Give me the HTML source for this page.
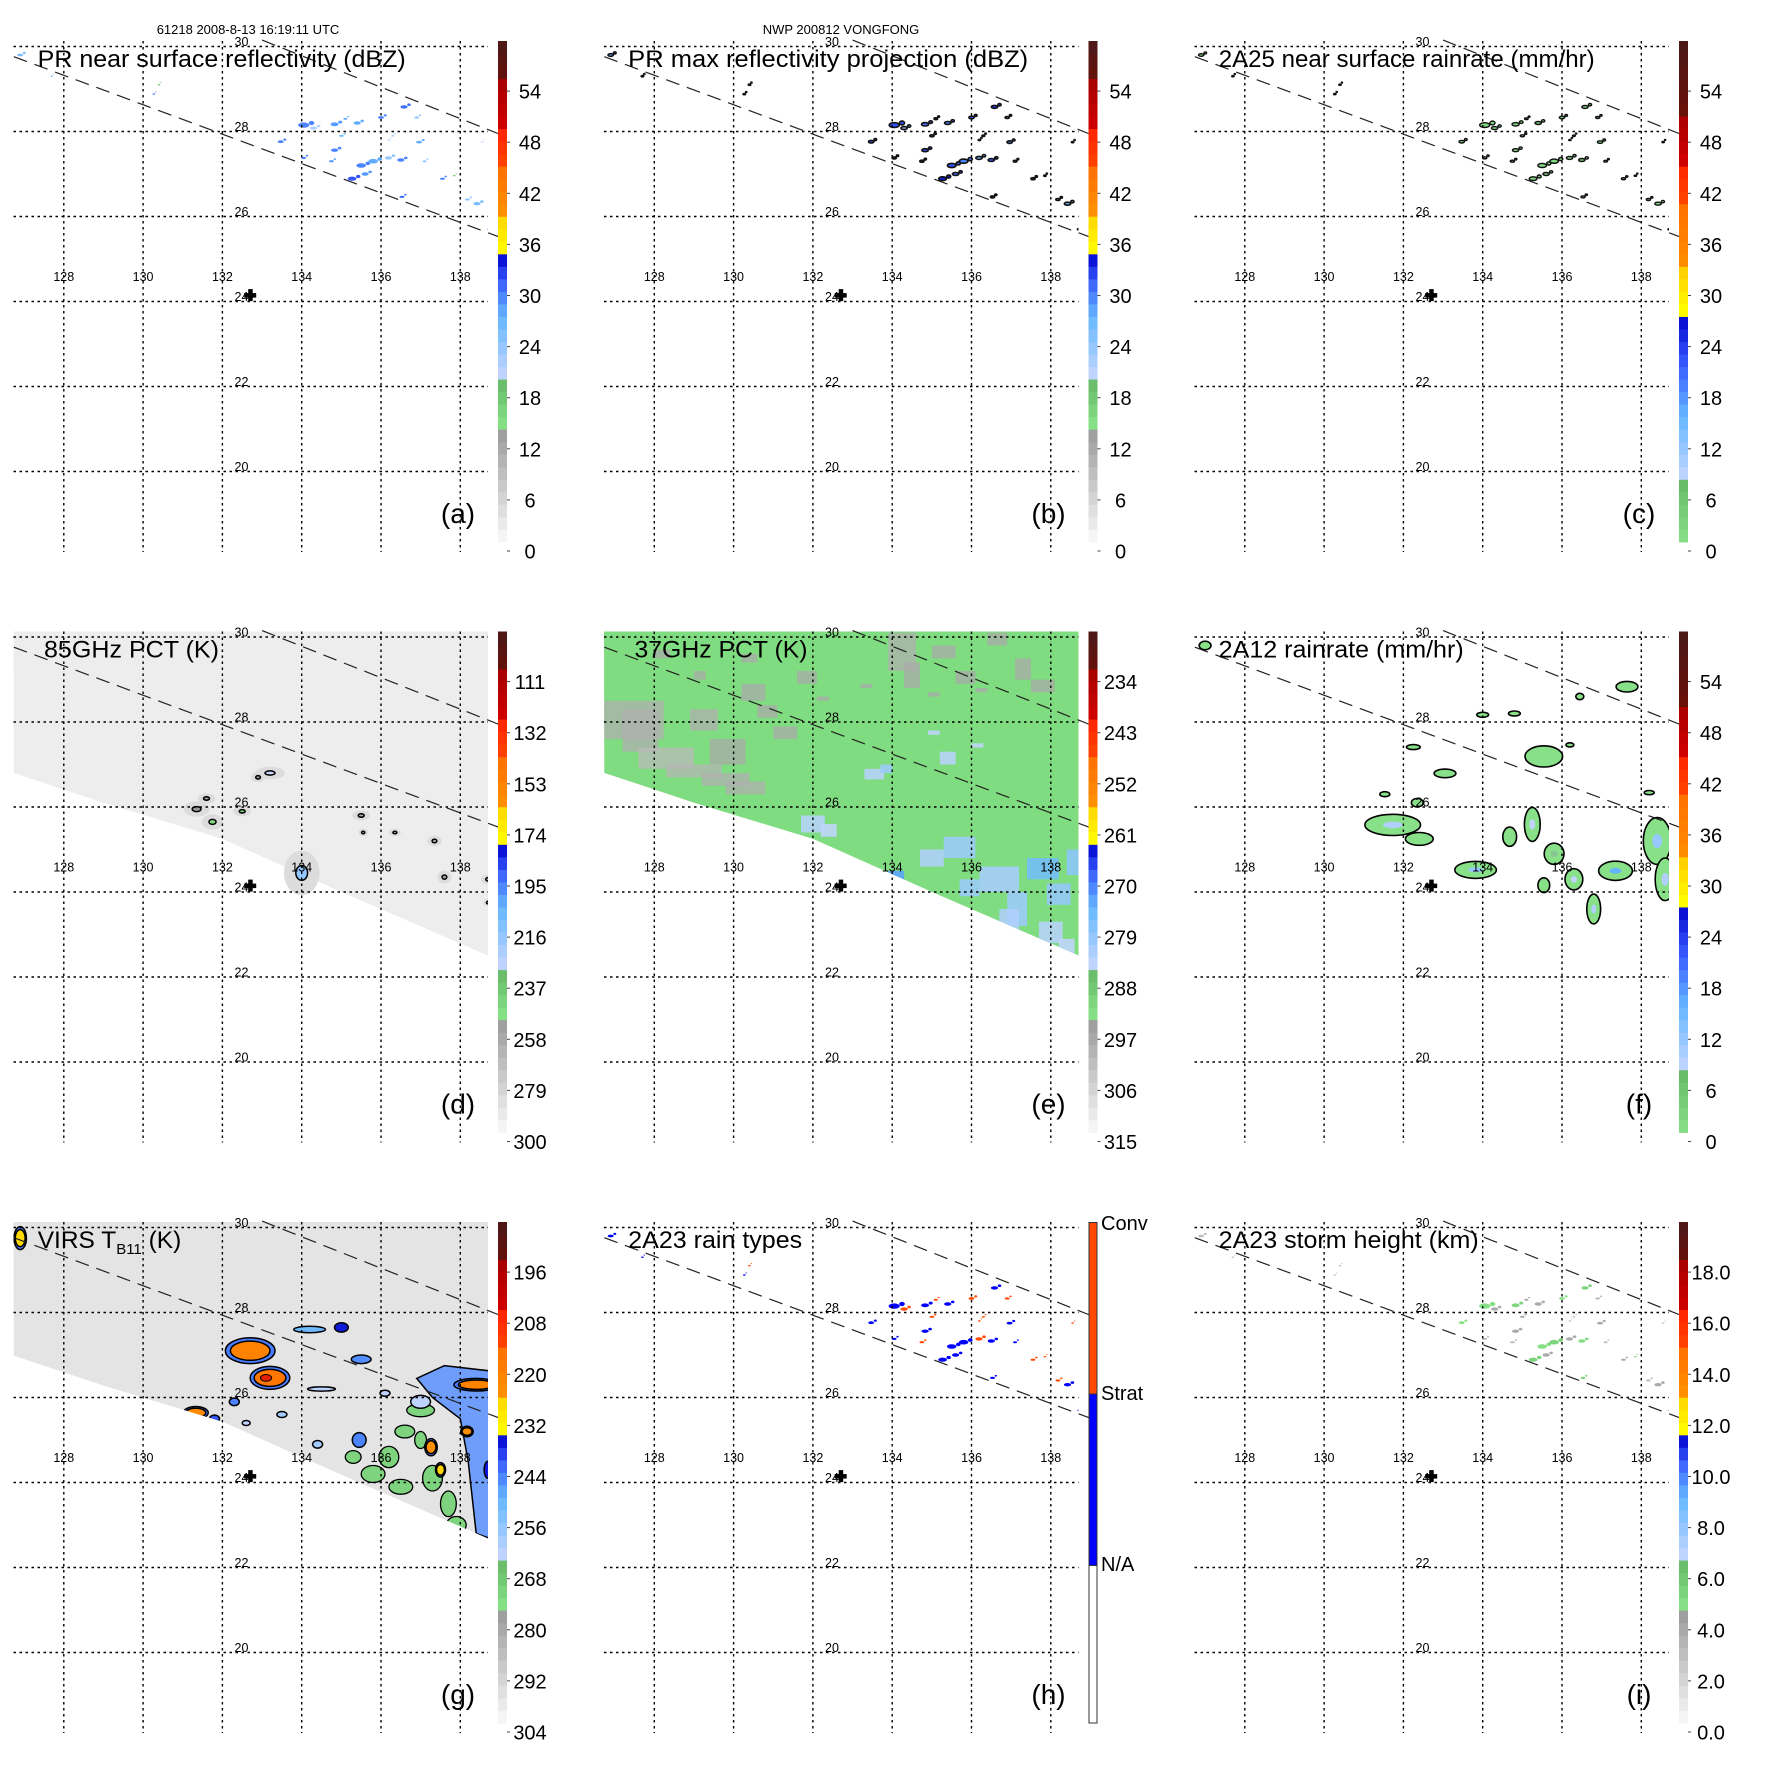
<!DOCTYPE html>
<html>
<head>
<meta charset="utf-8">
<title>TRMM NWP 200812 VONGFONG</title>
<style>
html,body{margin:0;padding:0;background:#fff;}
svg{display:block;font-family:"Liberation Sans",Arial,sans-serif;}
</style>
</head>
<body>
<svg id="fig" xmlns="http://www.w3.org/2000/svg" width="1771" height="1771" viewBox="0 0 1771 1771">
  <rect x="0" y="0" width="1771" height="1771" fill="#fff"/>
  <text x="248" y="34" font-size="13" text-anchor="middle">61218 2008-8-13 16:19:11 UTC</text>
  <text x="841" y="34" font-size="13" text-anchor="middle">NWP 200812 VONGFONG</text>
</svg>
<script>
// ---------- data ----------
const lonTicks = [128, 130, 132, 134, 136, 138];
const latTicks = [20, 22, 24, 26, 28, 30];
const centerLon = 132.7;
const centerLat = 24.15;

const ticksDbz = ["0","6","12","18","24","30","36","42","48","54"];
const ticksRain = ["0","6","12","18","24","30","36","42","48","54"];
const ticks85 = ["300","279","258","237","216","195","174","153","132","111"];
const ticks37 = ["315","306","297","288","279","270","261","252","243","234"];
const ticksVirs = ["304","292","280","268","256","244","232","220","208","196"];
const ticksHeight = ["0.0","2.0","4.0","6.0","8.0","10.0","12.0","14.0","16.0","18.0"];
const typeLabels = ["N/A","Strat","Conv"];

// PR pixels (shared by a,b,c,h,i)
const prLon  = [134.05,134.3,134.83,135.4,136.0,136.58,136.9,133.47,134.83,134.05,134.75,135.5,135.8,136.19,136.5,135.27,135.6,136.96,137.55,136.53,138.42,138.18,138.55,137.85,137.1,130.27,130.4,127.7,126.9,135.0,136.2,138.7,135.1,136.3];
const prLat  = [28.15,28.08,28.17,28.2,28.33,28.58,28.33,27.76,27.56,27.38,27.3,27.2,27.3,27.38,27.33,26.89,27.0,27.75,26.89,26.46,26.3,26.4,27.75,26.96,27.3,28.88,29.1,29.3,29.8,27.9,27.8,25.7,28.3,27.9];
const prSize = [0.28,0.18,0.2,0.18,0.15,0.18,0.12,0.15,0.18,0.12,0.12,0.24,0.24,0.18,0.18,0.22,0.18,0.15,0.12,0.12,0.18,0.12,0.07,0.07,0.1,0.07,0.07,0.07,0.15,0.12,0.07,0.07,0.1,0.08];
const prRefl = [30,22,29,28,30,31,24,30,30,30,29,30,28,24,30,32,29,28,30,31,26,24,20,18,24,30,18,24,26,26,22,24,28,23];
const prType = [1,2,1,1,2,1,2,1,1,1,2,1,1,2,1,1,1,1,2,1,1,2,2,2,1,1,2,1,1,2,2,1,2,2];
const prHeight = [5,4,5.5,4,5,5.5,3,5,4,3,3,5,5.5,4,5,5.5,4,4,4,5.5,4,3,3,5.5,3,3,3,3,3,4,3,3,4,3];
const prRain = [3,2,3,2,3,4,2,3,3,2,2,3,3,2,3,4,3,2,2,3,2,2,2,2,2,2,2,2,2,2,2,2,2,2];

// 2A12 rain blobs (f)
const tmiLon = [131.73,132.4,133.82,135.25,135.8,136.3,136.8,137.35,138.4,138.6,135.54,133.05,137.64,134.0,134.8,132.25,131.53,132.35,134.68,135.54,136.45,138.2,136.2,127.0];
const tmiLat = [25.58,25.25,24.52,25.59,24.9,24.3,23.6,24.5,25.2,24.3,27.19,26.79,28.83,28.17,28.2,27.41,26.3,26.1,25.3,24.16,28.6,26.34,27.46,29.8];
const tmiW   = [1.4,0.7,1.05,0.4,0.5,0.45,0.35,0.85,0.7,0.5,0.95,0.55,0.55,0.3,0.3,0.35,0.25,0.3,0.35,0.3,0.2,0.25,0.2,0.3];
const tmiH   = [0.5,0.3,0.4,0.8,0.5,0.5,0.7,0.45,1.1,1.0,0.5,0.2,0.25,0.12,0.12,0.12,0.12,0.2,0.45,0.35,0.15,0.1,0.1,0.2];
const tmiRain= [10,5,12,9,8,9,10,16,12,10,5,4,3,3,3,3,3,3,4,4,3,3,2,3];

// 85 GHz PCT cold spots (d)
const p85Lon = [131.35,131.75,132.5,133.2,132.9,131.6,134.0,135.5,136.35,137.35,137.6,138.7,138.7,135.55];
const p85Lat = [25.95,25.65,25.9,26.8,26.7,26.2,24.45,25.8,25.4,25.2,24.35,24.3,23.75,25.4];
const p85W   = [0.22,0.18,0.15,0.25,0.12,0.15,0.3,0.15,0.1,0.12,0.12,0.12,0.08,0.08];
const p85H   = [0.12,0.12,0.08,0.1,0.08,0.08,0.35,0.08,0.06,0.08,0.1,0.08,0.06,0.06];
const p85Val = [250,245,240,230,250,255,215,260,260,260,255,255,262,262];

// 37 GHz PCT patches (e)
const p37Lon = [126.74,127.2,127.6,128.3,129.2,129.8,130.2,128.9,129.4,130.6,131.0,131.6,130.2,133.9,134.3,135.0,135.6,136.4,137.1,137.5,134.9,136.1,128.0,129.0,132.1,133.2];
const p37Lat = [28.5,28.3,27.4,27.0,26.8,26.6,28.9,28.3,27.6,28.4,27.9,29.2,29.6,30.1,29.4,29.8,29.2,30.1,29.5,29.0,28.7,28.8,29.7,29.2,28.6,28.9];
const p37W   = [1.5,0.9,1.4,1.4,1.2,1.0,0.6,0.7,0.9,0.5,0.6,0.5,0.4,0.7,0.4,0.6,0.5,0.5,0.4,0.6,0.3,0.3,0.4,0.3,0.3,0.3];
const p37H   = [0.9,1.0,0.5,0.3,0.3,0.3,0.4,0.5,0.6,0.3,0.3,0.3,0.2,0.9,0.6,0.3,0.3,0.3,0.5,0.3,0.1,0.1,0.2,0.2,0.1,0.1];
const p37Val = [298,298,300,299,298,298,297,298,297,297,297,297,297,298,297,297,297,297,297,297,297,297,297,297,297,297];
const p37bLon = [133.3,133.7,131.7,132.2,134.7,135.3,135.2,136.2,136.9,137.4,137.9,138.4,138.7,133.9,135.7,136.7,137.7,138.2,134.9,136.0];
const p37bLat = [26.9,27.0,25.8,25.6,25.0,25.3,27.3,24.6,24.0,24.8,24.2,25.0,24.0,24.5,24.3,23.6,23.3,22.9,27.8,27.5];
const p37bW   = [0.5,0.3,0.6,0.4,0.6,0.8,0.4,1.0,0.5,0.8,0.6,0.5,0.4,0.4,0.5,0.5,0.6,0.4,0.3,0.3];
const p37bH   = [0.25,0.2,0.4,0.3,0.4,0.5,0.3,0.6,0.8,0.5,0.5,0.6,0.6,0.3,0.4,0.6,0.5,0.4,0.1,0.1];
const p37bVal = [283,280,283,284,282,280,283,281,280,275,279,278,282,272,280,282,283,284,284,284];

// VIRS cold clouds (g)
const vLon = [132.7,133.2,131.33,138.4,138.17,137.26,134.2,135.5,135.45,135.0,134.5,131.8,132.3,133.5,136.1,126.9,137.0,138.7,134.4,132.6,137.5];
const vLat = [27.1,26.46,25.64,26.3,25.2,24.83,27.6,26.9,25.0,27.65,26.2,25.5,25.9,25.6,26.1,29.75,25.9,24.3,24.9,25.4,24.3];
const vW   = [1.0,0.8,0.5,0.9,0.25,0.25,0.8,0.5,0.35,0.35,0.7,0.25,0.25,0.25,0.25,0.25,0.5,0.2,0.25,0.2,0.2];
const vH   = [0.45,0.4,0.22,0.22,0.18,0.3,0.15,0.2,0.35,0.22,0.1,0.18,0.18,0.14,0.14,0.4,0.3,0.4,0.18,0.12,0.25];
const vTb  = [220,216,222,220,224,224,250,245,244,236,262,240,244,258,262,226,262,236,258,262,225];
const blueAreaLon = [136.9,137.6,138.98,138.98,138.4,138.2,138.0,137.3];
const blueAreaLat = [26.45,26.75,26.6,22.6,22.8,24.5,25.5,26.0];
const greenLon = [137.0,136.6,136.2,135.8,137.3,137.7,137.9,136.5,135.3,137.0];
const greenLat = [25.7,25.2,24.6,24.2,24.1,23.5,23.0,23.9,24.6,25.0];
const greenW   = [0.7,0.5,0.5,0.6,0.5,0.4,0.5,0.6,0.4,0.3];
const greenH   = [0.3,0.3,0.5,0.4,0.6,0.6,0.4,0.35,0.3,0.4];

// swath lower edge
const swathLon = [126.74,129.0,132.0,135.0,138.98];
const swathLat = [26.8,26.1,25.25,24.0,22.39];
// PR swath dashed edges
const upperEdgeLon = [133.0,138.98], upperEdgeLat = [30.15,27.94];
const lowerEdgeLon = [126.74,138.98], lowerEdgeLat = [29.76,25.52];

// ---------- styles ----------
const cmapA = [[0,'#fafafa'],[0.235,'#959595'],[0.2351,'#86e086'],[0.32,'#68bb68'],[0.3201,'#ccd8ff'],[0.45,'#66b8ff'],[0.52,'#3a60ff'],[0.574,'#0000cc'],[0.5741,'#ffff00'],[0.66,'#ffd000'],[0.6601,'#ff9000'],[0.745,'#ff7000'],[0.7451,'#ff4800'],[0.83,'#ff2000'],[0.8301,'#d00000'],[0.917,'#a80000'],[0.9171,'#6a1008'],[1,'#4a1a18']];
const cmapC = [[0,'#88e088'],[0.118,'#68bb68'],[0.1181,'#ccd8ff'],[0.25,'#66b8ff'],[0.35,'#3a60ff'],[0.457,'#0000cc'],[0.4571,'#ffff00'],[0.54,'#ffd000'],[0.5401,'#ff9000'],[0.675,'#ff7000'],[0.6751,'#ff4800'],[0.76,'#ff2000'],[0.7601,'#d00000'],[0.85,'#a80000'],[0.8501,'#6a1008'],[1,'#4a1a18']];

const NS = "http://www.w3.org/2000/svg";
const svg = document.getElementById('fig');
const STEP = 590.5;
const PX0 = 13.5, PX1 = 488, PY0 = 41, PY1 = 552;
function X(lon){ return 63.8 + (lon - 128) * 39.65; }
function Y(lat){ return 46.5 + (30 - lat) * 42.5; }
function mk(tag, attrs, parent){
  const e = document.createElementNS(NS, tag);
  for (const k in attrs) e.setAttribute(k, attrs[k]);
  parent.appendChild(e);
  return e;
}
function hex(c){ return [parseInt(c.substr(1,2),16),parseInt(c.substr(3,2),16),parseInt(c.substr(5,2),16)]; }
function cmap(stops, f){
  f = Math.max(0, Math.min(1, f));
  for (let i = 0; i < stops.length - 1; i++){
    const a = stops[i], b = stops[i+1];
    if (f >= a[0] && f <= b[0]){
      const t = (b[0] - a[0]) ? (f - a[0]) / (b[0] - a[0]) : 0;
      const ca = hex(a[1]), cb = hex(b[1]);
      return 'rgb(' + ca.map((v,j)=>Math.round(v + (cb[j]-v)*t)).join(',') + ')';
    }
  }
  return stops[stops.length-1][1];
}
function frac(v, t0, dt){ return (51.1 * (v - t0) / dt - 9) / 501; }

const panelDefs = [
  {key:'a', col:0,row:0, title:'PR near surface reflectivity (dBZ)', tx:37.7, tl:368, ticks:ticksDbz, cm:cmapA, letter:'(a)'},
  {key:'b', col:1,row:0, title:'PR max reflectivity projection (dBZ)', tx:37.7, tl:400, ticks:ticksDbz, cm:cmapA, letter:'(b)'},
  {key:'c', col:2,row:0, title:'2A25 near surface rainrate (mm/hr)', tx:37.7, tl:376, ticks:ticksRain, cm:cmapC, letter:'(c)'},
  {key:'d', col:0,row:1, title:'85GHz PCT (K)', tx:44, tl:175, ticks:ticks85, cm:cmapA, letter:'(d)'},
  {key:'e', col:1,row:1, title:'37GHz PCT (K)', tx:44, tl:173, ticks:ticks37, cm:cmapA, letter:'(e)'},
  {key:'f', col:2,row:1, title:'2A12 rainrate (mm/hr)', tx:37.7, tl:245, ticks:ticksRain, cm:cmapC, letter:'(f)'},
  {key:'g', col:0,row:2, title:'VIRS', tx:37.7, tl:0, ticks:ticksVirs, cm:cmapA, letter:'(g)'},
  {key:'h', col:1,row:2, title:'2A23 rain types', tx:37.7, tl:174, ticks:null, cm:null, letter:'(h)'},
  {key:'i', col:2,row:2, title:'2A23 storm height (km)', tx:37.7, tl:260, ticks:ticksHeight, cm:cmapA, letter:'(i)'}
];

function swathPath(dLat){
  let d = 'M' + PX0 + ',' + PY0 + ' L' + PX1 + ',' + PY0;
  for (let i = swathLon.length - 1; i >= 0; i--) d += ' L' + X(swathLon[i]).toFixed(1) + ',' + Y(swathLat[i] + dLat).toFixed(1);
  return d + ' Z';
}
function maskPath(dLat){
  return 'M' + PX0 + ',' + PY1 + ' L' + PX0 + ',' + Y(swathLat[0]+dLat).toFixed(1) + swathLon.map((l,i)=>' L' + X(l).toFixed(1) + ',' + Y(swathLat[i]+dLat).toFixed(1)).join('') + ' L' + PX1 + ',' + PY1 + ' Z';
}
function ell(parent, lon, lat, w, h, fill, stroke, sw, name){
  const e = mk('ellipse', {cx:X(lon).toFixed(1), cy:Y(lat).toFixed(1), rx:(w*39.65/2).toFixed(1), ry:(h*42.5/2).toFixed(1), fill:fill, stroke:stroke||'none', 'stroke-width':sw||0}, parent);
  
  
  return e;
}

panelDefs.forEach(function(p){
  const g = mk('g', {transform:'translate(' + (p.col*STEP).toFixed(1) + ',' + (p.row*STEP).toFixed(1) + ')'}, svg);
  
  

  const cp = mk('clipPath', {id:'clip-' + p.key}, g);
  mk('rect', {x:PX0, y:PY0, width:PX1-PX0, height:PY1-PY0}, cp);
  const field = mk('g', {'clip-path':'url(#clip-' + p.key + ')'}, g);
  
  

  if (p.key === 'd'){
    const s = mk('path', {d:swathPath(0), fill:'#ededed'}, field);
    
    
    for (let i = 0; i < p85Lon.length; i++){
      ell(field, p85Lon[i], p85Lat[i], p85W[i]*3, p85H[i]*3, '#dcdcdc', 'none', 0, 'pct85-halo');
    }
    for (let i = 0; i < p85Lon.length; i++){
      const f = frac(p85Val[i], 300, -21);
      ell(field, p85Lon[i], p85Lat[i], p85W[i], p85H[i], cmap(cmapA, f), '#000', 1.5, 'pct85-cell');
    }
  }
  if (p.key === 'e'){
    const s = mk('path', {d:swathPath(0), fill:'#80dc80'}, field);
    
    
    for (let i = 0; i < p37Lon.length; i++){
      const r = mk('rect', {x:X(p37Lon[i]).toFixed(1), y:Y(p37Lat[i]).toFixed(1), width:(p37W[i]*39.65).toFixed(1), height:(p37H[i]*42.5).toFixed(1), fill:cmap(cmapA, frac(p37Val[i], 315, -9)), opacity:0.75}, field);
      
      
    }
    for (let i = 0; i < p37bLon.length; i++){
      const r = mk('rect', {x:X(p37bLon[i]).toFixed(1), y:Y(p37bLat[i]).toFixed(1), width:(p37bW[i]*39.65).toFixed(1), height:(p37bH[i]*42.5).toFixed(1), fill:cmap(cmapA, frac(p37bVal[i], 315, -9)), opacity:0.85}, field);
      
      
    }
    const w = mk('path', {d:maskPath(0), fill:'#fff'}, field);
    
    
  }
  if (p.key === 'g'){
    const s = mk('path', {d:swathPath(0.18), fill:'#e4e4e4'}, field);
    
    
    for (let i = 0; i < greenLon.length; i++){
      ell(field, greenLon[i], greenLat[i], greenW[i], greenH[i], '#7ed47e', '#000', 1.3, 'mid-cloud-patch');
    }
    const bg = mk('path', {d:'M' + blueAreaLon.map((l,i)=>X(l).toFixed(1) + ',' + Y(blueAreaLat[i]).toFixed(1)).join(' L') + ' Z', fill:'#5a90ff', 'fill-opacity':0.85, stroke:'#000', 'stroke-width':1.5}, field);
    
    
    for (let i = 0; i < vLon.length; i++){
      const f = frac(vTb[i], 304, -12);
      if (vTb[i] < 235){
        ell(field, vLon[i], vLat[i], vW[i]*1.25, vH[i]*1.35, '#4a7cff', '#000', 1.5, 'virs-cloud-edge');
      }
      ell(field, vLon[i], vLat[i], vW[i], vH[i], cmap(cmapA, f), '#000', 1.5, 'virs-cloud-core');
      if (vTb[i] < 218){
        ell(field, vLon[i]-0.1, vLat[i], vW[i]*0.35, vH[i]*0.4, '#e02000', '#000', 1, 'virs-cloud-top');
      }
    }
    const m = mk('path', {d:maskPath(0.18), fill:'#fff'}, field);
    
    
  }
  if (p.key === 'f'){
    for (let i = 0; i < tmiLon.length; i++){
      ell(field, tmiLon[i], tmiLat[i], tmiW[i], tmiH[i], cmap(cmapC, frac(0.8, 0, 6)), '#000', 1.6, 'rain-cell');
      if (tmiRain[i] >= 8){
        ell(field, tmiLon[i], tmiLat[i], tmiW[i]*0.35, tmiH[i]*0.3, cmap(cmapC, frac(tmiRain[i], 0, 6)), 'none', 0, 'rain-core');
      }
    }
  }
  if (['a','b','c','h','i'].indexOf(p.key) >= 0){
    for (let i = 0; i < prLon.length; i++){
      let fill, stroke = 'none', sw = 0, sc = 1;
      if (p.key === 'a'){ fill = cmap(cmapA, frac(prRefl[i], 0, 6)); }
      if (p.key === 'b'){ fill = cmap(cmapA, frac(prRefl[i] + 2, 0, 6)); stroke = '#111'; sw = 1.6; sc = 0.9; }
      if (p.key === 'c'){ fill = cmap(cmapC, frac(prRain[i], 0, 6)); stroke = '#111'; sw = 1.4; sc = 0.9; }
      if (p.key === 'h'){ fill = prType[i] === 1 ? '#0000ff' : '#ff4800'; }
      if (p.key === 'i'){ fill = cmap(cmapA, frac(prHeight[i], 0, 2)); }
      ell(field, prLon[i], prLat[i], prSize[i]*sc, prSize[i]*0.45*sc, fill, stroke, sw, 'pr-pixel');
      ell(field, prLon[i] + prSize[i]*0.7, prLat[i] + 0.05, prSize[i]*0.5*sc, prSize[i]*0.35*sc, fill, stroke, sw, 'pr-pixel');
    }
  }

  // grid
  lonTicks.forEach(function(lon){
    const l = mk('line', {x1:X(lon).toFixed(1), x2:X(lon).toFixed(1), y1:PY0, y2:PY1, stroke:'#000', 'stroke-width':1.4, 'stroke-dasharray':'2.5,3.5'}, g);
    
    
    const t = mk('text', {x:X(lon).toFixed(1), y:281, 'font-size':12.5, 'text-anchor':'middle'}, g);
    t.textContent = String(lon);
    
    
  });
  latTicks.forEach(function(lat){
    const l = mk('line', {x1:PX0, x2:PX1, y1:Y(lat).toFixed(1), y2:Y(lat).toFixed(1), stroke:'#000', 'stroke-width':1.4, 'stroke-dasharray':'2.5,3.5'}, g);
    
    
    const t = mk('text', {x:241.5, y:(Y(lat) - 0.5).toFixed(1), 'font-size':12.5, 'text-anchor':'middle'}, g);
    t.textContent = String(lat);
    
    
  });
  const ue = mk('line', {x1:X(upperEdgeLon[0]).toFixed(1), y1:Y(upperEdgeLat[0]).toFixed(1), x2:X(upperEdgeLon[1]).toFixed(1), y2:Y(upperEdgeLat[1]).toFixed(1), stroke:'#222', 'stroke-width':1.2, 'stroke-dasharray':'14,8'}, g);
  
  
  const le = mk('line', {x1:X(lowerEdgeLon[0]).toFixed(1), y1:Y(lowerEdgeLat[0]).toFixed(1), x2:X(lowerEdgeLon[1]).toFixed(1), y2:Y(lowerEdgeLat[1]).toFixed(1), stroke:'#222', 'stroke-width':1.2, 'stroke-dasharray':'14,8'}, g);
  
  
  const cx = X(centerLon), cy = Y(centerLat);
  const c1 = mk('rect', {x:(cx-6).toFixed(1), y:(cy-2).toFixed(1), width:12, height:4.5, fill:'#000'}, g);
  
  
  const c2 = mk('rect', {x:(cx-2).toFixed(1), y:(cy-6).toFixed(1), width:4.5, height:12, fill:'#000'}, g);
  
  

  // title
  const tt = mk('text', {x:p.tx, y:67, 'font-size':24.5}, g);
  
  
  if (p.key === 'g'){
    tt.innerHTML = 'VIRS T<tspan font-size="15" dy="6">B11</tspan><tspan dy="-6"> (K)</tspan>';
  } else {
    tt.textContent = p.title;
    tt.setAttribute('textLength', p.tl);
    tt.setAttribute('lengthAdjust', 'spacingAndGlyphs');
  }
  const lt = mk('text', {x:458, y:523, 'font-size':28, 'text-anchor':'middle'}, g);
  lt.textContent = p.letter;
  
  

  // colorbar
  const cb = mk('g', {}, g);
  
  
  if (p.key === 'h'){
    const segs = [['#ffffff', 384.5, 542], ['#0000ff', 213, 384.5], ['#ff4800', 41.5, 213]];
    segs.forEach(function(s){
      const r = mk('rect', {x:498.5, y:s[1], width:8, height:s[2]-s[1], fill:s[0], stroke:'#333', 'stroke-width':1}, cb);
      
      
    });
    const ys = [390, 219, 49];
    typeLabels.forEach(function(lbl, i){
      const t = mk('text', {x:510.5, y:ys[i], 'font-size':20}, cb);
      t.textContent = lbl;
      
      
    });
  } else {
    const N = 40, h = (542 - 41) / N;
    for (let k = 0; k < N; k++){
      const r = mk('rect', {x:498, y:(542 - (k+1)*h).toFixed(2), width:9, height:(h+0.4).toFixed(2), fill:cmap(p.cm, (k+0.5)/N)}, cb);
      
      
    }
    p.ticks.forEach(function(lbl, k){
      const y = 551 - k * 51.1;
      const tm = mk('line', {x1:507, x2:510, y1:y.toFixed(1), y2:y.toFixed(1), stroke:'#444', 'stroke-width':1}, cb);
      
      
      const t = mk('text', {x:530, y:(y + 7.5).toFixed(1), 'font-size':20, 'text-anchor':'middle'}, cb);
      t.textContent = lbl;
      
      
    });
  }
});
</script>
</body>
</html>
